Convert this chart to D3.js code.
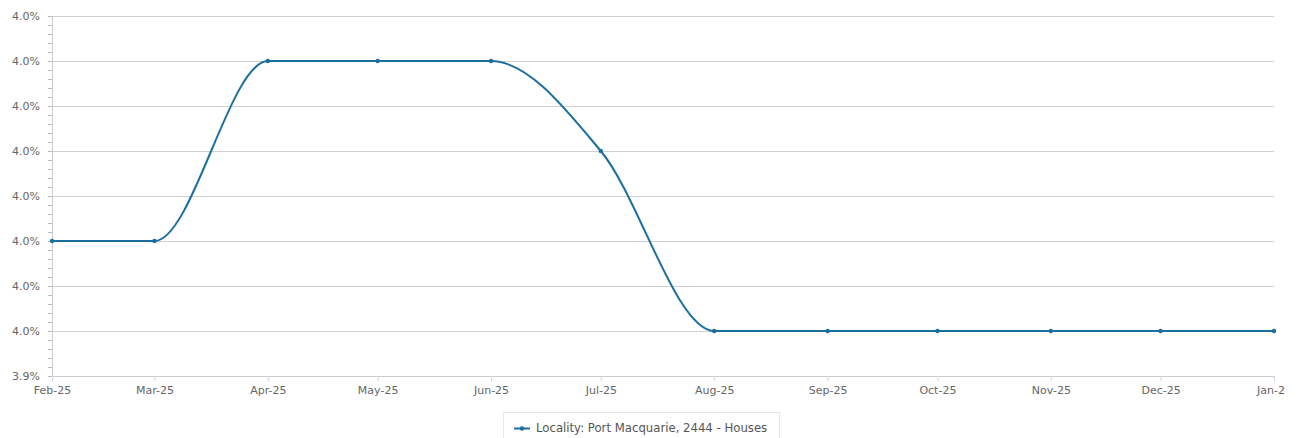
<!DOCTYPE html>
<html><head><meta charset="utf-8">
<script src="https://cdn.jsdelivr.net/npm/d3@7"></script>
<style>
body{margin:0;background:#fff;font-family:"DejaVu Sans",sans-serif;}
svg text{font-family:"DejaVu Sans",sans-serif;}
</style></head>
<body><svg id="c"></svg>
<script>
const months = ["2025-02-01","2025-03-01","2025-04-01","2025-05-01","2025-06-01","2025-07-01","2025-08-01","2025-09-01","2025-10-01","2025-11-01","2025-12-01","2026-01-01"];
const monthLabels = ["Feb-25","Mar-25","Apr-25","May-25","Jun-25","Jul-25","Aug-25","Sep-25","Oct-25","Nov-25","Dec-25","Jan-26"];
const values = [3.97,3.97,4.01,4.01,4.01,3.99,3.95,3.95,3.95,3.95,3.95,3.95];
const yTicks = [3.94,3.95,3.96,3.97,3.98,3.99,4.00,4.01,4.02];
const yTickLabels = ["3.9%","4.0%","4.0%","4.0%","4.0%","4.0%","4.0%","4.0%","4.0%"];
const seriesName = "Locality: Port Macquarie, 2444 - Houses";

const W = 1285, H = 438;
const mL = 52, mR = 1274, mT = 16, mB = 376;
const svg = d3.select("#c").attr("width", W).attr("height", H);
const parse = d3.timeParse("%Y-%m-%d");
const dates = months.map(parse);
const x = d3.scaleTime().domain([dates[0], dates[dates.length-1]]).range([mL, mR]);
const y = d3.scaleLinear().domain([3.94, 4.02]).range([mB, mT]);

// minor ticks
const minor = d3.range(0, 41).map(i => 3.94 + i*0.002);
svg.append("g").selectAll("line").data(minor).join("line")
  .attr("x1", mL-4).attr("x2", mL).attr("y1", d=>Math.round(y(d))+0.5).attr("y2", d=>Math.round(y(d))+0.5)
  .attr("stroke", "#bbb").attr("stroke-width", 1);

// gridlines
svg.append("g").selectAll("line").data(yTicks).join("line")
  .attr("x1", mL).attr("x2", mR).attr("y1", d=>Math.round(y(d))+0.5).attr("y2", d=>Math.round(y(d))+0.5)
  .attr("stroke", "#d0d0d0").attr("stroke-width", 1);

// y axis line
svg.append("line").attr("x1", mL+0.5).attr("x2", mL+0.5).attr("y1", mT).attr("y2", mB)
  .attr("stroke", "#ccc");

// y labels
const yAxis = d3.axisLeft(y).tickValues(yTicks).tickFormat((d,i)=>yTickLabels[i]).tickSize(0).tickPadding(12);
const yg = svg.append("g").attr("transform", `translate(${mL},0)`).call(yAxis);
yg.select(".domain").remove();
yg.selectAll("text").attr("fill", "#666").style("font-size", "11px");

// x axis
const xAxis = d3.axisBottom(x).tickValues(dates).tickFormat((d,i)=>monthLabels[i]).tickSize(5).tickPadding(5).tickSizeOuter(0);
const xg = svg.append("g").attr("transform", `translate(0,${mB})`).call(xAxis);
xg.select(".domain").attr("stroke", "#ccc");
xg.selectAll(".tick line").attr("stroke", "#ccd6eb");
xg.selectAll("text").attr("fill", "#666").style("font-size", "11px");

// line
const color = "#1b6fa0";
const line = d3.line().x((d,i)=>x(dates[i])).y(d=>y(d)).curve(d3.curveMonotoneX);
svg.append("path").datum(values).attr("d", line).attr("fill", "none")
  .attr("stroke", color).attr("stroke-width", 2);
svg.append("g").selectAll("circle").data(values).join("circle")
  .attr("cx", (d,i)=>x(dates[i])).attr("cy", d=>y(d)).attr("r", 2.2).attr("fill", color);

// legend
const lg = svg.append("g");
lg.append("rect").attr("x", 503.5).attr("y", 412.5).attr("width", 276).attr("height", 40)
  .attr("fill", "#fff").attr("stroke", "#e6e6e6");
lg.append("line").attr("x1", 514).attr("x2", 530).attr("y1", 428.5).attr("y2", 428.5)
  .attr("stroke", color).attr("stroke-width", 2);
lg.append("circle").attr("cx", 522).attr("cy", 428.5).attr("r", 2.2).attr("fill", color);
lg.append("text").attr("x", 536).attr("y", 432).text(seriesName)
  .attr("fill", "#555").style("font-size", "11.7px");
</script></body></html>
